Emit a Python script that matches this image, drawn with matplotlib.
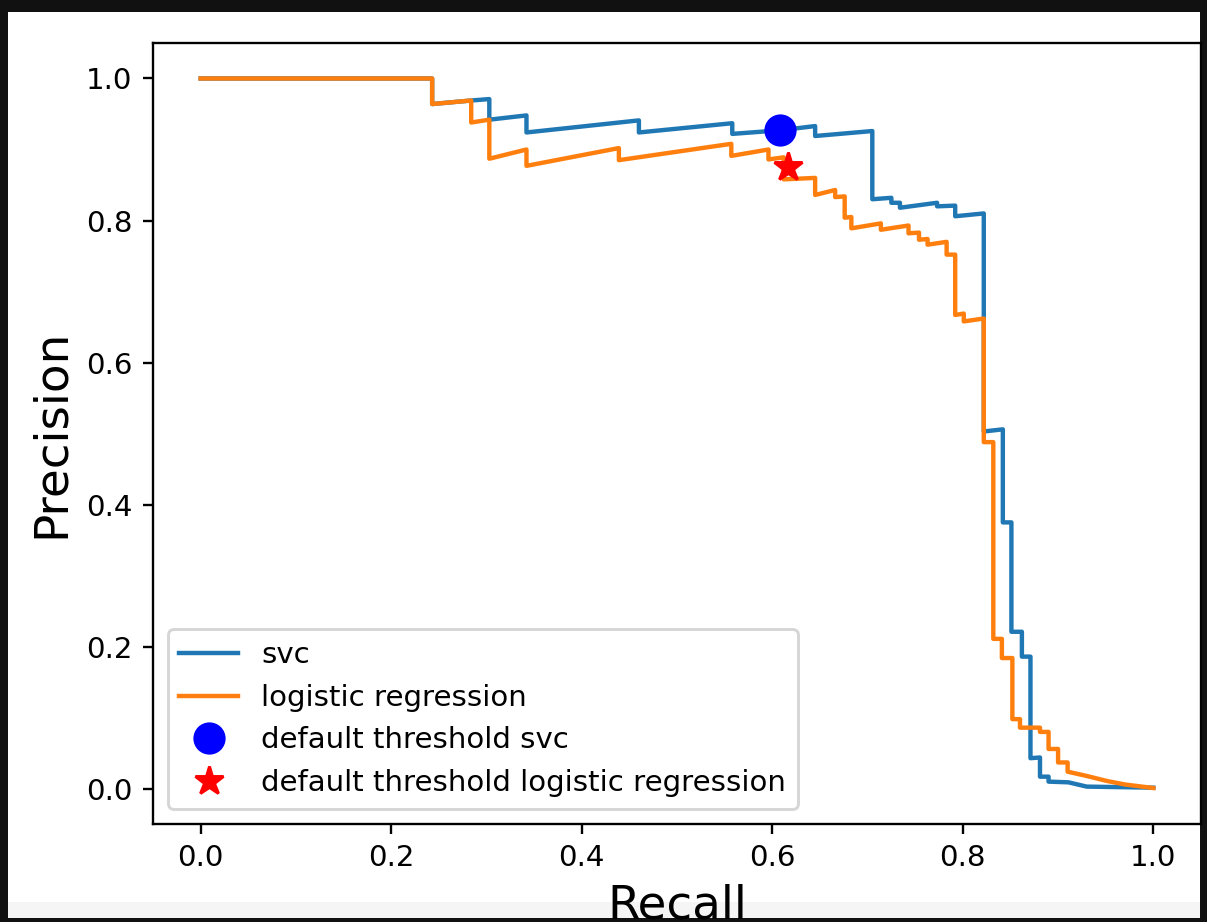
import matplotlib
matplotlib.use("Agg")
import matplotlib.pyplot as plt
from matplotlib.patches import Rectangle

# precision / recall points (recall on x)
svc_recall = [0.0, 0.243, 0.243, 0.284, 0.303, 0.303, 0.342, 0.342, 0.460, 0.460,
              0.558, 0.558, 0.608, 0.645, 0.645, 0.705, 0.705, 0.725, 0.725, 0.734,
              0.734, 0.773, 0.773, 0.792, 0.792, 0.822, 0.822, 0.842, 0.842, 0.851,
              0.851, 0.862, 0.862, 0.871, 0.871, 0.881, 0.881, 0.890, 0.890, 0.911,
              0.930, 1.0]
svc_precision = [1.0, 1.0, 0.964, 0.969, 0.971, 0.942, 0.948, 0.924, 0.941, 0.924,
                 0.937, 0.922, 0.927, 0.933, 0.919, 0.926, 0.830, 0.832, 0.825, 0.825,
                 0.818, 0.825, 0.820, 0.821, 0.806, 0.810, 0.503, 0.506, 0.375, 0.375,
                 0.221, 0.221, 0.186, 0.186, 0.043, 0.044, 0.017, 0.017, 0.010, 0.009,
                 0.003, 0.0015]

lr_recall = [0.0, 0.243, 0.243, 0.284, 0.284, 0.303, 0.303, 0.342, 0.342, 0.439,
             0.439, 0.557, 0.557, 0.596, 0.596, 0.612, 0.612, 0.645, 0.645, 0.666,
             0.666, 0.676, 0.676, 0.683, 0.683, 0.714, 0.714, 0.743, 0.743, 0.754,
             0.754, 0.763, 0.763, 0.783, 0.783, 0.792, 0.792, 0.801, 0.801, 0.822,
             0.822, 0.832, 0.832, 0.841, 0.841, 0.852, 0.852, 0.860, 0.860, 0.881,
             0.881, 0.890, 0.890, 0.900, 0.900, 0.910, 0.910, 0.930, 0.951, 0.970,
             1.0]
lr_precision = [1.0, 1.0, 0.964, 0.969, 0.938, 0.942, 0.887, 0.900, 0.877, 0.902,
                0.885, 0.908, 0.891, 0.900, 0.886, 0.889, 0.858, 0.860, 0.836, 0.843,
                0.833, 0.834, 0.804, 0.805, 0.789, 0.796, 0.787, 0.793, 0.782, 0.783,
                0.773, 0.774, 0.766, 0.770, 0.752, 0.752, 0.667, 0.669, 0.658, 0.662,
                0.488, 0.488, 0.211, 0.211, 0.184, 0.184, 0.098, 0.098, 0.086, 0.086,
                0.080, 0.080, 0.056, 0.056, 0.037, 0.037, 0.024, 0.018, 0.011, 0.006,
                0.001]

svc_default = (0.608, 0.927)
lr_default = (0.617, 0.876)

W, H, DPI = 1207, 922, 211
fig = plt.figure(figsize=(W / DPI, H / DPI), dpi=DPI, facecolor='#111111')

# screenshot frame: white output cell + grey strip at the bottom
fig.add_artist(Rectangle((8 / W, 1 - 902 / H), (1200 - 8) / W, (902 - 12) / H,
                         transform=fig.transFigure, facecolor='white',
                         edgecolor='none', zorder=-2))
fig.add_artist(Rectangle((8 / W, 1 - 918 / H), (1200 - 8) / W, 16 / H,
                         transform=fig.transFigure, facecolor='#f5f5f5',
                         edgecolor='none', zorder=-2))

ax = fig.add_axes([153 / W, 1 - 823.5 / H, (1201 - 153) / W, (823.5 - 43) / H])

ax.plot(svc_recall, svc_precision, label="svc")
ax.plot(lr_recall, lr_precision, label="logistic regression")
ax.plot(svc_default[0], svc_default[1], 'o', c='blue', markersize=10,
        label="default threshold svc")
ax.plot(lr_default[0], lr_default[1], '*', c='red', markersize=10,
        label="default threshold logistic regression")

ax.set_xlabel("Recall", fontsize=16)
ax.set_ylabel("Precision", fontsize=16)
ax.legend(loc='lower left')

fig.savefig("out.png", dpi=DPI, facecolor=fig.get_facecolor())
